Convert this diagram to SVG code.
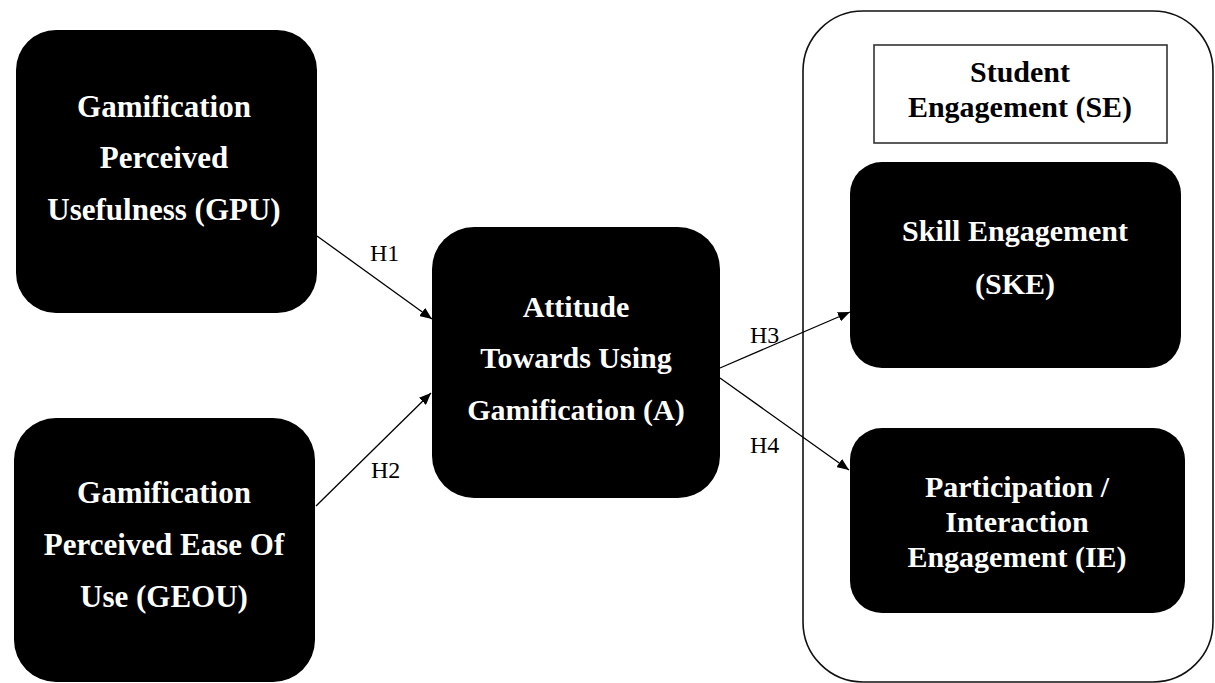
<svg xmlns="http://www.w3.org/2000/svg" width="1215" height="683" viewBox="0 0 1215 683">
  <style>
    .node { fill: #000; }
    .nt { font-family: "Liberation Serif", "Times New Roman", serif; font-weight: bold; font-size: 30px; fill: #fff; text-anchor: middle; }
    .big { font-size: 31px; }
    .se { font-family: "Liberation Serif", "Times New Roman", serif; font-weight: bold; font-size: 30px; fill: #000; text-anchor: middle; }
    .lbl { font-family: "Liberation Serif", "Times New Roman", serif; font-size: 24px; fill: #000; }
    .conn { stroke: #000; stroke-width: 1.3; fill: none; marker-end: url(#arrow); }
  </style>
  <defs>
    <marker id="arrow" viewBox="0 0 12 10" refX="12" refY="5" markerWidth="12" markerHeight="10" markerUnits="userSpaceOnUse" orient="auto">
      <path d="M0,0 L12,5 L0,10 Z" fill="#000"/>
    </marker>
  </defs>
  <rect width="1215" height="683" fill="#fff"/>

  <g id="se-container">
    <rect x="803" y="11" width="410" height="671" rx="60" ry="60" fill="none" stroke="#111" stroke-width="1.6"/>
  </g>

  <g id="se-title">
    <rect x="874" y="45" width="293" height="98" fill="#fff" stroke="#333" stroke-width="1.6"/>
    <text class="se" x="1020" y="82">Student</text>
    <text class="se" x="1020" y="117">Engagement (SE)</text>
  </g>

  <g id="gpu">
    <rect class="node" x="16" y="30" width="301" height="283" rx="40" ry="40"/>
    <text class="nt big" x="164" y="117">Gamification</text>
    <text class="nt big" x="164" y="168">Perceived</text>
    <text class="nt big" x="164" y="220">Usefulness (GPU)</text>
  </g>

  <g id="geou">
    <rect class="node" x="14" y="418" width="301" height="264" rx="42" ry="42"/>
    <text class="nt big" x="164" y="503">Gamification</text>
    <text class="nt big" x="164" y="555">Perceived Ease Of</text>
    <text class="nt big" x="164" y="607">Use (GEOU)</text>
  </g>

  <g id="attitude">
    <rect class="node" x="432" y="227" width="288" height="271" rx="42" ry="42"/>
    <text class="nt" x="576" y="317">Attitude</text>
    <text class="nt" x="576" y="368">Towards Using</text>
    <text class="nt" x="576" y="420">Gamification (A)</text>
  </g>

  <g id="ske">
    <rect class="node" x="850" y="162" width="331" height="206" rx="32" ry="32"/>
    <text class="nt" x="1015" y="241">Skill Engagement</text>
    <text class="nt" x="1015" y="294">(SKE)</text>
  </g>

  <g id="ie">
    <rect class="node" x="850" y="428" width="335" height="185" rx="32" ry="32"/>
    <text class="nt" x="1017" y="497">Participation /</text>
    <text class="nt" x="1017" y="532">Interaction</text>
    <text class="nt" x="1017" y="567">Engagement (IE)</text>
  </g>

  <g id="connectors">
    <line class="conn" x1="317" y1="236" x2="432" y2="319"/>
    <line class="conn" x1="316" y1="506" x2="431" y2="393"/>
    <line class="conn" x1="720" y1="368" x2="850" y2="312"/>
    <line class="conn" x1="720" y1="378" x2="849" y2="470"/>
    <text class="lbl" x="370" y="261">H1</text>
    <text class="lbl" x="371" y="478">H2</text>
    <text class="lbl" x="750" y="343">H3</text>
    <text class="lbl" x="750" y="453">H4</text>
  </g>
</svg>
